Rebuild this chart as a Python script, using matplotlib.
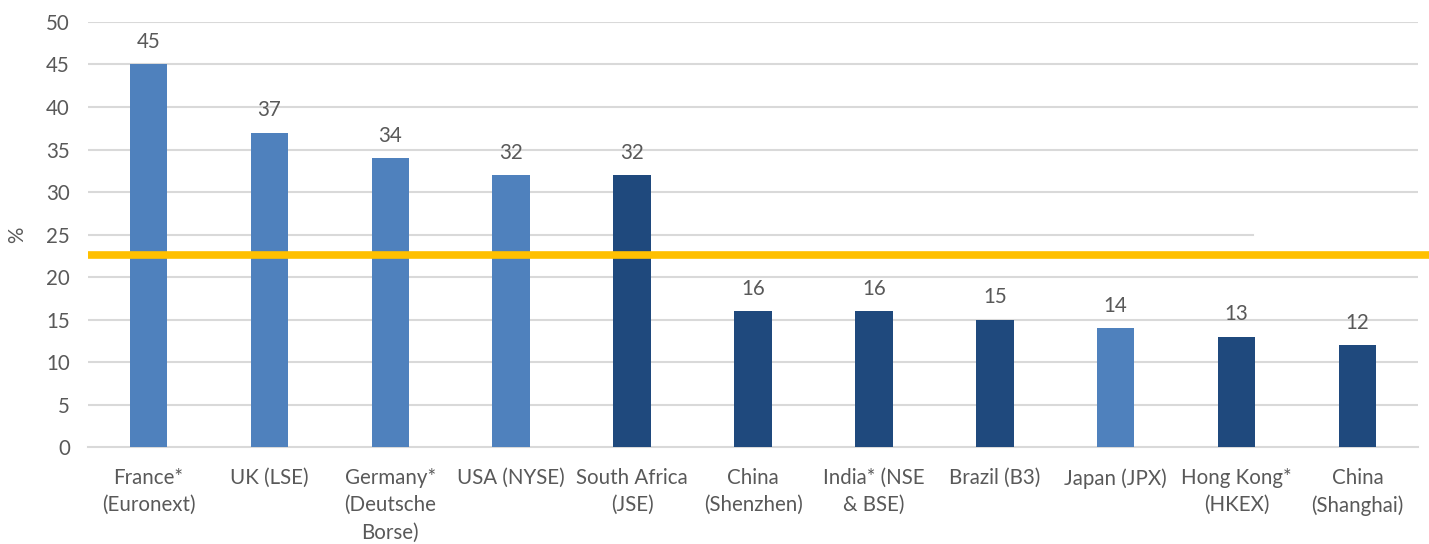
import matplotlib.pyplot as plt
import matplotlib.transforms as mtransforms

# chart data
exchanges = ["France*\n(Euronext)", "UK (LSE)", "Germany*\n(Deutsche\nBorse)", "USA (NYSE)",
             "South Africa\n(JSE)", "China\n(Shenzhen)", "India* (NSE\n& BSE)", "Brazil (B3)",
             "Japan (JPX)", "Hong Kong*\n(HKEX)", "China\n(Shanghai)"]
values = [45, 37, 34, 32, 32, 16, 16, 15, 14, 13, 12]
developed = [True, True, True, True, False, False, False, False, True, False, False]
average_line = 22.6
y_ticks = [0, 5, 10, 15, 20, 25, 30, 35, 40, 45, 50]

light = "#4F81BD"
dark = "#1F497D"
text_col = "#595959"
fs = 14.8
plt.rcParams['font.family'] = ['Lato', 'DejaVu Sans']

fig = plt.figure(figsize=(14.29, 5.44), dpi=100)
ax = fig.add_axes([0.0616, 0.178, 0.9307, 0.7816])

x = list(range(len(values)))
colors = [light if d else dark for d in developed]
bars = ax.bar(x, values, width=0.31, color=colors, zorder=3)

for b, v in zip(bars, values):
    ax.annotate(str(v), (b.get_x() + b.get_width() / 2, v), xytext=(0, 9),
                textcoords='offset points', ha='center', va='bottom',
                fontsize=fs, color=text_col)

# gridlines (the 25 line stops short in the original)
for t in y_ticks[1:]:
    xmax = 0.876 if t == 25 else 1.0
    ax.axhline(t, xmin=0, xmax=xmax, color="#d9d9d9", lw=1.5, zorder=1)

# yellow average line, runs past the plot edge
trans = mtransforms.blended_transform_factory(ax.transAxes, ax.transData)
ax.plot([0, 1.01], [average_line, average_line], transform=trans, color="#FFC000",
        lw=5.5, clip_on=False, zorder=4, solid_capstyle='butt')

ax.set_xlim(-0.5, len(values) - 0.5)
ax.set_ylim(0, 50)
ax.set_yticks(y_ticks)
ax.set_xticks(x)
ax.set_xticklabels(exchanges, linespacing=1.45)
ax.tick_params(axis='both', length=0, labelsize=fs, labelcolor=text_col)
ax.tick_params(axis='x', pad=15)
ax.tick_params(axis='y', pad=13)
ax.set_ylabel("%", fontsize=fs, color=text_col, labelpad=14)

for s in ['top', 'right', 'left']:
    ax.spines[s].set_visible(False)
ax.spines['bottom'].set_color("#d9d9d9")
ax.spines['bottom'].set_linewidth(1.5)
ax.spines['bottom'].set_zorder(2)

fig.savefig("out.png", dpi=100)
